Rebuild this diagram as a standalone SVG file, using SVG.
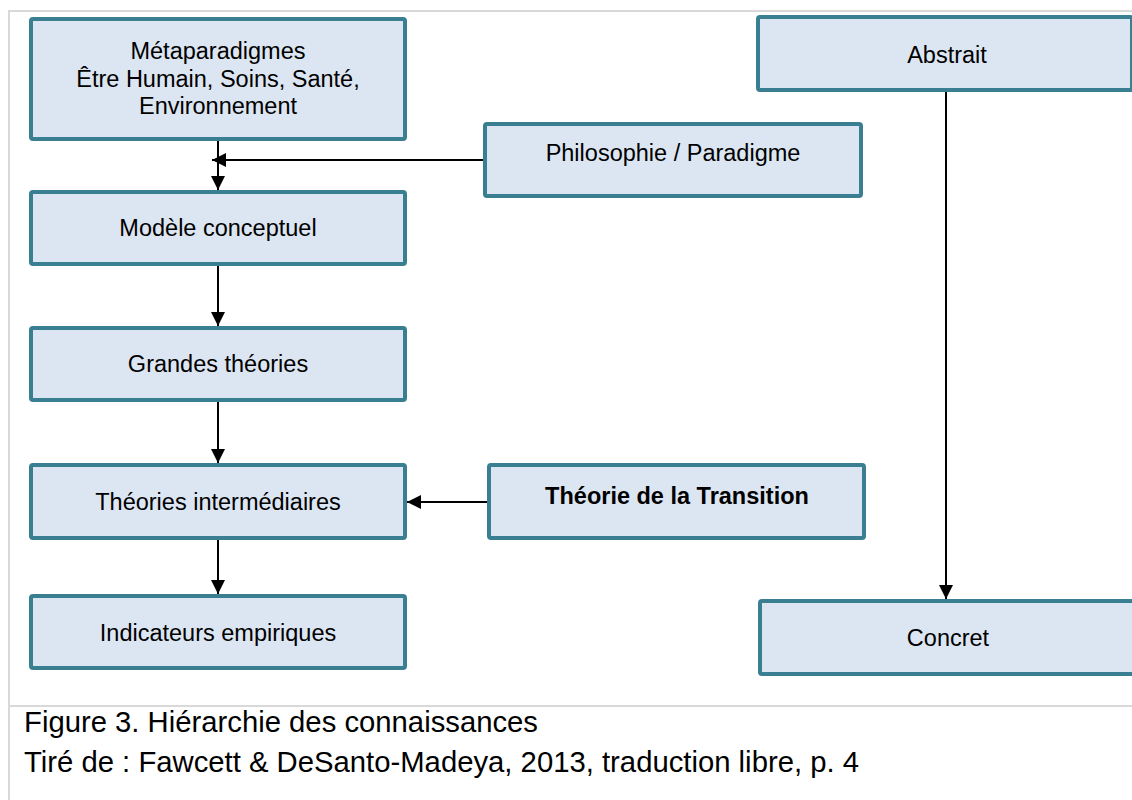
<svg xmlns="http://www.w3.org/2000/svg" width="1132" height="800" viewBox="0 0 1132 800">
<style>
.box rect{fill:#dce6f2;stroke:#3a7e91;stroke-width:4}
.box text{font-family:"Liberation Sans",Arial,sans-serif;font-size:23.5px;fill:#000;text-anchor:middle}
.bold{font-weight:bold}
.conn line{stroke:#000;stroke-width:2}
.frame{stroke:#d9d9d9;stroke-width:2;fill:none}
.cap{font-family:"Liberation Sans",Arial,sans-serif;font-size:29px;fill:#000}
</style>
<defs>
<marker id="arr" viewBox="0 0 14 14" refX="14" refY="7" markerWidth="14" markerHeight="14" markerUnits="userSpaceOnUse" orient="auto">
<path d="M0,0 L14,7 L0,14 z" fill="#000"/>
</marker>
</defs>
<rect width="1132" height="800" fill="#fff"/>
<g id="frame">
<line class="frame" x1="9" y1="11" x2="1132" y2="11"/>
<line class="frame" x1="9" y1="10" x2="9" y2="800"/>
<line class="frame" x1="9" y1="706" x2="1132" y2="706"/>
</g>
<g id="connectors" class="conn">
<line x1="218" y1="141" x2="218" y2="190" marker-end="url(#arr)"/>
<line x1="483" y1="160" x2="212" y2="160" marker-end="url(#arr)"/>
<line x1="218" y1="266" x2="218" y2="326" marker-end="url(#arr)"/>
<line x1="218" y1="402" x2="218" y2="463" marker-end="url(#arr)"/>
<line x1="218" y1="540" x2="218" y2="594" marker-end="url(#arr)"/>
<line x1="487" y1="502" x2="407" y2="502" marker-end="url(#arr)"/>
<line x1="946" y1="92" x2="946" y2="599" marker-end="url(#arr)"/>
</g>
<g id="metaparadigmes" class="box">
<rect x="31" y="19" width="374" height="120" rx="2"/>
<text x="218" y="59">Métaparadigmes</text>
<text x="218" y="87">Être Humain, Soins, Santé,</text>
<text x="218" y="114">Environnement</text>
</g>
<g id="philosophie" class="box">
<rect x="485" y="124" width="376" height="72" rx="2"/>
<text x="673" y="161">Philosophie / Paradigme</text>
</g>
<g id="abstrait" class="box">
<rect x="758" y="17" width="374" height="73" rx="2"/>
<text x="947" y="63">Abstrait</text>
</g>
<g id="modele" class="box">
<rect x="31" y="192" width="374" height="72" rx="2"/>
<text x="218" y="236">Modèle conceptuel</text>
</g>
<g id="grandes" class="box">
<rect x="31" y="328" width="374" height="72" rx="2"/>
<text x="218" y="372">Grandes théories</text>
</g>
<g id="intermediaires" class="box">
<rect x="31" y="465" width="374" height="73" rx="2"/>
<text x="218" y="510">Théories intermédiaires</text>
</g>
<g id="indicateurs" class="box">
<rect x="31" y="596" width="374" height="72" rx="2"/>
<text x="218" y="641">Indicateurs empiriques</text>
</g>
<g id="transition" class="box">
<rect x="489" y="465" width="375" height="73" rx="2"/>
<text x="677" y="504" class="bold">Théorie de la Transition</text>
</g>
<g id="concret" class="box">
<rect x="760" y="601" width="374" height="73" rx="2"/>
<text x="948" y="646">Concret</text>
</g>
<g id="caption">
<text class="cap" x="24" y="732" textLength="514" lengthAdjust="spacingAndGlyphs">Figure 3. Hiérarchie des connaissances</text>
<text class="cap" x="24" y="772" textLength="835" lengthAdjust="spacingAndGlyphs">Tiré de : Fawcett &amp; DeSanto-Madeya, 2013, traduction libre, p. 4</text>
</g>
</svg>
